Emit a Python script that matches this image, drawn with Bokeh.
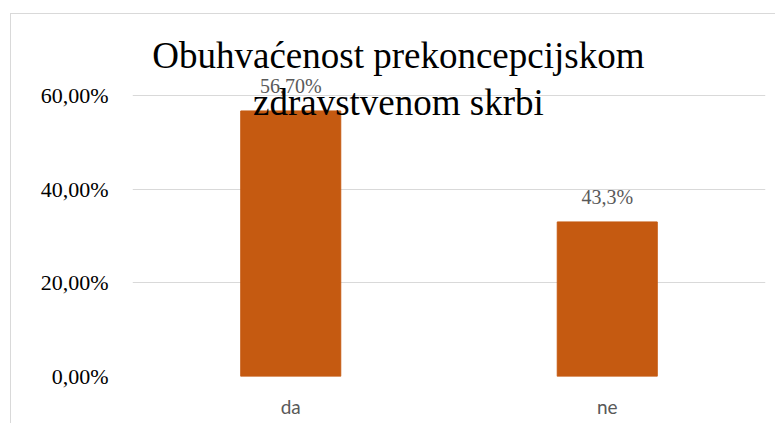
from bokeh.plotting import figure
from bokeh.models import (ColumnDataSource, FactorRange, Range1d, FixedTicker,
                          LabelSet, Label)
from bokeh.embed import file_html
from bokeh.resources import INLINE

# ---- data ----
categories = ["da", "ne"]
values = [56.7, 33.0]
value_labels = ["56,70%", "43,3%"]
y_ticks = [0, 20, 40, 60]
y_tick_labels = ["0,00%", "20,00%", "40,00%", "60,00%"]
title_lines = ["Obuhvaćenost prekoncepcijskom", "zdravstvenom skrbi"]

BAR = "#C55A11"
GRID = "#D9D9D9"
GRAYTXT = "#595959"

source = ColumnDataSource(dict(cat=categories, val=values, lab=value_labels))

# frame runs to the top of the canvas so that the title is not clipped;
# 60 % sits 281 px above the baseline, the frame is 362 px tall.
y_top = 60 * 362 / 281

p = figure(x_range=FactorRange(*categories, range_padding=0),
           y_range=Range1d(0, y_top),
           width=765, height=410,
           output_backend="svg", toolbar_location=None,
           min_border_left=121, min_border_right=11,
           min_border_top=0, min_border_bottom=48,
           styles={"border-left": "1px solid #D9D9D9",
                   "border-top": "1px solid #D9D9D9",
                   "margin-left": "10px", "margin-top": "13px"})
p.outline_line_color = None
p.background_fill_color = "white"
p.border_fill_color = "white"

p.vbar(x="cat", top="val", width=0.316, source=source,
       fill_color=BAR, line_color=BAR)

# axes
p.yaxis.ticker = FixedTicker(ticks=y_ticks)
p.yaxis.major_label_overrides = {t: l for t, l in zip(y_ticks, y_tick_labels)}
p.yaxis.axis_line_color = None
p.yaxis.major_tick_line_color = None
p.yaxis.minor_tick_line_color = None
p.yaxis.major_tick_out = 0
p.yaxis.major_label_standoff = 24
p.yaxis.major_label_text_font = "Liberation Serif"
p.yaxis.major_label_text_font_size = "22px"
p.yaxis.major_label_text_color = "black"

p.xaxis.axis_line_color = None
p.xaxis.major_tick_line_color = None
p.xaxis.minor_tick_line_color = None
p.xaxis.major_tick_out = 0
p.xaxis.major_label_standoff = 18
p.xaxis.major_label_text_font = "Lato"
p.xaxis.major_label_text_font_size = "19px"
p.xaxis.major_label_text_color = GRAYTXT

p.xgrid.grid_line_color = None
p.ygrid.ticker = FixedTicker(ticks=y_ticks)
p.ygrid.grid_line_color = GRID
p.ygrid.grid_line_width = 1

labels = LabelSet(x="cat", y="val", text="lab", source=source,
                  y_offset=18, text_align="center", text_baseline="alphabetic",
                  text_font="Lato", text_font_size="20px", text_color=GRAYTXT)
p.add_layout(labels)

# title (two lines, serif)
p.add_layout(Label(x=0.84, y=68.6, text=title_lines[0], text_align="center",
                   text_baseline="alphabetic", text_font="Liberation Serif",
                   text_font_size="37px", text_color="black"))
p.add_layout(Label(x=0.84, y=58.5, text=title_lines[1], text_align="center",
                   text_baseline="alphabetic", text_font="Liberation Serif",
                   text_font_size="37px", text_color="black"))

open("out.html", "w").write(file_html(p, INLINE))
